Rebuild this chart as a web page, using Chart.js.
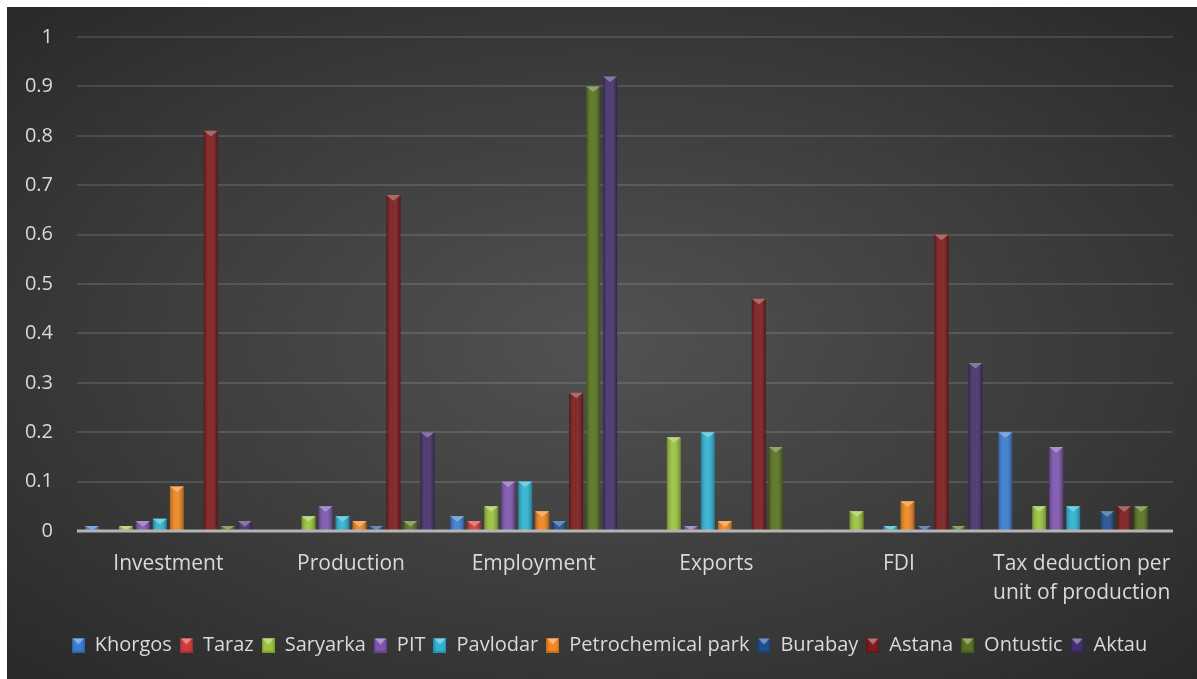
<!DOCTYPE html>
<html>
<head>
<meta charset="utf-8">
<script src="https://cdn.jsdelivr.net/npm/chart.js@4.4.1/dist/chart.umd.min.js"></script>
<style>
  html, body { margin: 0; padding: 0; background: #fff; }
  #wrap {
    position: absolute; left: 7px; top: 7px; width: 1190px; height: 672px;
    background: radial-gradient(ellipse at 50% 50%, #525252 0%, #3c3c3c 55%, #292929 100%);
  }
  canvas { display: block; }
</style>
</head>
<body>
<div id="wrap"><canvas id="chart" width="1190" height="672"></canvas></div>
<script>
// categories (x axis)
const categories = ['Investment', 'Production', 'Employment', 'Exports', 'FDI',
                    ['Tax deduction per', 'unit of production']];

// one array per zone, same order as the categories
const khorgos      = [0.01, 0,    0.03, 0,    0,    0.20];
const taraz        = [0,    0,    0.02, 0,    0,    0];
const saryarka     = [0.01, 0.03, 0.05, 0.19, 0.04, 0.05];
const pit          = [0.02, 0.05, 0.10, 0.01, 0,    0.17];
const pavlodar     = [0.025,0.03, 0.10, 0.20, 0.01, 0.05];
const petrochem    = [0.09, 0.02, 0.04, 0.02, 0.06, 0];
const burabay      = [0,    0.01, 0.02, 0,    0.01, 0.04];
const astana       = [0.81, 0.68, 0.28, 0.47, 0.60, 0.05];
const ontustic     = [0.01, 0.02, 0.90, 0.17, 0.01, 0.05];
const aktau        = [0.02, 0.20, 0.92, 0,    0.34, 0];

const seriesNames  = ['Khorgos', 'Taraz', 'Saryarka', 'PIT', 'Pavlodar',
                      'Petrochemical park', 'Burabay', 'Astana', 'Ontustic', 'Aktau'];
const seriesData   = [khorgos, taraz, saryarka, pit, pavlodar, petrochem, burabay, astana, ontustic, aktau];
const seriesColors = ['#3b7dd0', '#cf3b3b', '#9ac43e', '#7e55b0', '#2fb3d3',
                      '#f0871f', '#1f4f8e', '#7c1b1b', '#57731f', '#45306b'];

// y axis ticks
const yTicks = [0, 0.1, 0.2, 0.3, 0.4, 0.5, 0.6, 0.7, 0.8, 0.9, 1];

const FONT = "'Open Sans', 'Noto Sans', sans-serif";
const TEXT = '#d9d9d9';

// mix a hex colour with white (amt > 0) or black (amt < 0)
function shade(hex, amt) {
    const n = parseInt(hex.slice(1), 16);
    let r = n >> 16, g = (n >> 8) & 255, b = n & 255;
    const t = amt < 0 ? 0 : 255, p = Math.abs(amt);
    r = Math.round(r + (t - r) * p);
    g = Math.round(g + (t - g) * p);
    b = Math.round(b + (t - b) * p);
    return `rgb(${r},${g},${b})`;
}

// little bevelled square used as legend marker
function legendMarker(color) {
    const c = document.createElement('canvas');
    c.width = 13; c.height = 15;
    const g = c.getContext('2d');
    g.fillStyle = shade(color, -0.2);
    g.fillRect(0, 0, 13, 15);
    g.fillStyle = color;
    g.fillRect(1.5, 1.5, 10, 12);
    g.fillStyle = shade(color, 0.4);
    g.beginPath();
    g.moveTo(1, 1); g.lineTo(12, 1); g.lineTo(6.5, 7);
    g.closePath(); g.fill();
    return c;
}

// bevel on top of every bar: side shading + light triangle
const bevelPlugin = {
    id: 'bevel',
    afterDatasetsDraw(chart) {
        const ctx = chart.ctx;
        chart.data.datasets.forEach((ds, di) => {
            const meta = chart.getDatasetMeta(di);
            meta.data.forEach(bar => {
                const h = bar.base - bar.y;
                if (h <= 0.5) return;
                const w = bar.width, x0 = bar.x - w / 2;
                ctx.save();
                const gr = ctx.createLinearGradient(x0, 0, x0 + w, 0);
                gr.addColorStop(0, 'rgba(0,0,0,0.28)');
                gr.addColorStop(0.45, 'rgba(255,255,255,0.06)');
                gr.addColorStop(1, 'rgba(0,0,0,0.32)');
                ctx.fillStyle = gr;
                ctx.fillRect(x0, bar.y, w, h);
                const th = Math.min(w * 0.4, h);
                ctx.fillStyle = shade(seriesColors[di], 0.35);
                ctx.beginPath();
                ctx.moveTo(x0, bar.y);
                ctx.lineTo(x0 + w, bar.y);
                ctx.lineTo(bar.x, bar.y + th);
                ctx.closePath();
                ctx.fill();
                ctx.restore();
            });
        });
        // light base line drawn over the bar bottoms
        const x = chart.scales.x, y = chart.scales.y;
        const y0 = y.getPixelForValue(0);
        ctx.save();
        ctx.strokeStyle = '#b3b3b3';
        ctx.lineWidth = 3;
        ctx.beginPath();
        ctx.moveTo(x.left, y0);
        ctx.lineTo(x.right, y0);
        ctx.stroke();
        ctx.restore();
    }
};

new Chart(document.getElementById('chart'), {
    type: 'bar',
    data: {
        labels: categories,
        datasets: seriesNames.map((name, i) => ({
            label: name,
            data: seriesData[i],
            backgroundColor: seriesColors[i],
            borderWidth: 0,
            categoryPercentage: 0.93,
            barPercentage: 0.82
        }))
    },
    options: {
        responsive: false,
        animation: false,
        layout: { padding: { top: 30, right: 0, bottom: 14, left: 15 } },
        scales: {
            x: {
                grid: { display: false, drawTicks: false },
                border: { display: false },
                ticks: {
                    color: TEXT, padding: 18, maxRotation: 0, autoSkip: false,
                    font: { family: FONT, size: 21, lineHeight: 1.4 }
                },
                afterFit(scale) { scale.height = 96; }
            },
            y: {
                min: 0, max: 1,
                afterBuildTicks(scale) { scale.ticks = yTicks.map(v => ({ value: v })); },
                grid: { color: 'rgba(255,255,255,0.12)', lineWidth: 2, drawTicks: false },
                border: { display: false },
                ticks: {
                    color: TEXT, padding: 24,
                    font: { family: FONT, size: 20 },
                    callback: v => String(v)
                },
                afterFit(scale) {
                    scale.width = 55;
                    scale.paddingTop = 10;
                    scale.paddingBottom = 10;
                }
            },
            // empty right axis: keeps the gap at the right of the plot
            gap: {
                type: 'linear', position: 'right', display: true,
                grid: { display: false }, border: { display: false },
                ticks: { display: false },
                afterFit(scale) {
                    scale.width = 24;
                    scale.paddingTop = 0;
                    scale.paddingBottom = 0;
                }
            }
        },
        plugins: {
            legend: {
                position: 'bottom',
                labels: {
                    color: TEXT,
                    font: { family: FONT, size: 20 },
                    usePointStyle: true,
                    pointStyleWidth: 13,
                    boxHeight: 15,
                    padding: 8,
                    generateLabels(chart) {
                        const items = Chart.defaults.plugins.legend.labels.generateLabels(chart);
                        items.forEach((it, i) => { it.pointStyle = legendMarker(seriesColors[i]); });
                        return items;
                    }
                }
            },
            tooltip: { enabled: false }
        }
    },
    plugins: [bevelPlugin]
});
</script>
</body>
</html>
